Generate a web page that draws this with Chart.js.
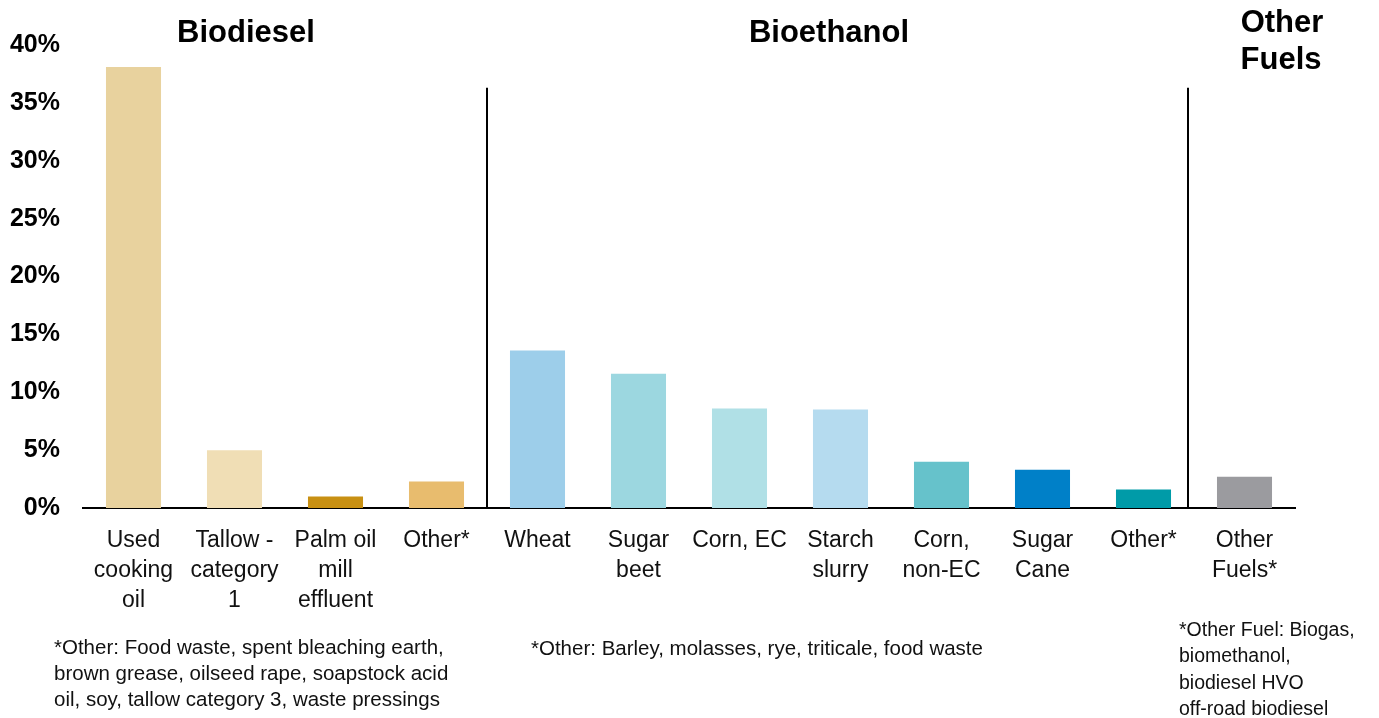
<!DOCTYPE html>
<html lang="en">
<head>
  <meta charset="UTF-8">
  <title>Feedstock shares</title>
  <script src="https://cdn.jsdelivr.net/npm/chart.js"></script>
  <style>
    html, body { margin: 0; padding: 0; background: #fff; overflow: hidden; }
  </style>
</head>
<body>
  <canvas id="feedChart" width="1379" height="718"></canvas>
  <script>
    // categories (multi-line labels)
    const feedstocks = [
      ['Used', 'cooking', 'oil'],
      ['Tallow -', 'category', '1'],
      ['Palm oil', 'mill', 'effluent'],
      ['Other*'],
      ['Wheat'],
      ['Sugar', 'beet'],
      ['Corn, EC'],
      ['Starch', 'slurry'],
      ['Corn,', 'non-EC'],
      ['Sugar', 'Cane'],
      ['Other*'],
      ['Other', 'Fuels*']
    ];
    // share of supply, %
    const shares = [38.1, 5.0, 1.0, 2.3, 13.6, 11.6, 8.6, 8.5, 4.0, 3.3, 1.6, 2.7];
    const barColors = [
      '#E8D29E', '#F0DEB5', '#C89012', '#E8BC6E',
      '#9DCEEA', '#9CD7E0', '#B0E0E6', '#B5DBEF', '#66C2CB', '#0080C8', '#009BA8',
      '#9B9B9F'
    ];
    const yTicks = [0, 5, 10, 15, 20, 25, 30, 35, 40];
    // group separators, in category units
    const separators = [3.5, 10.44];

    const FONT = '"Liberation Sans", Arial, sans-serif';

    const annotations = {
      id: 'annotations',
      afterDraw(chart) {
        const ctx = chart.ctx;
        const x = chart.scales.x, y = chart.scales.y;
        ctx.save();
        ctx.strokeStyle = '#000';
        ctx.lineWidth = 2;
        separators.forEach(s => {
          const px = Math.round(x.getPixelForValue(s));
          ctx.beginPath();
          ctx.moveTo(px, y.getPixelForValue(36.3));
          ctx.lineTo(px, y.getPixelForValue(0));
          ctx.stroke();
        });

        // group titles
        ctx.fillStyle = '#000';
        ctx.textAlign = 'center';
        ctx.textBaseline = 'middle';
        ctx.font = 'bold 31px ' + FONT;
        ctx.fillText('Biodiesel', 246, 33);
        ctx.fillText('Bioethanol', 829, 33);
        ctx.fillText('Other', 1282, 23);
        ctx.fillText('Fuels', 1281, 60);

        // footnotes
        ctx.textAlign = 'left';
        ctx.textBaseline = 'alphabetic';
        ctx.fillStyle = '#111';
        ctx.font = '20.5px ' + FONT;
        ['*Other: Food waste, spent bleaching earth,',
         'brown grease, oilseed rape, soapstock acid',
         'oil, soy, tallow category 3, waste pressings'].forEach((t, i) => ctx.fillText(t, 54, 654 + i * 26));
        ctx.fillText('*Other: Barley, molasses, rye, triticale, food waste', 531, 655);
        ctx.font = '19.5px ' + FONT;
        ['*Other Fuel: Biogas,', 'biomethanol,', 'biodiesel HVO', 'off-road biodiesel']
          .forEach((t, i) => ctx.fillText(t, 1179, 636 + i * 26.3));
        ctx.restore();
      }
    };

    new Chart(document.getElementById('feedChart'), {
      type: 'bar',
      data: {
        labels: feedstocks,
        datasets: [{
          data: shares,
          backgroundColor: barColors,
          borderWidth: 0,
          barPercentage: 0.545,
          categoryPercentage: 1
        }]
      },
      options: {
        responsive: false,
        animation: false,
        devicePixelRatio: 1,
        layout: { padding: { left: 0, top: 45, right: 84, bottom: 0 } },
        plugins: { legend: { display: false }, tooltip: { enabled: false } },
        scales: {
          x: {
            grid: { display: false, drawTicks: false },
            border: { display: true, color: '#000', width: 2 },
            ticks: {
              color: '#111',
              padding: 18,
              maxRotation: 0,
              autoSkip: false,
              font: { family: FONT, size: 23, lineHeight: 1.3 }
            },
            afterFit: s => { s.height = 210; }
          },
          y: {
            min: 0,
            max: 40,
            grid: { display: false, drawTicks: false },
            border: { display: false },
            afterBuildTicks: s => { s.ticks = yTicks.map(v => ({ value: v })); },
            ticks: {
              color: '#000',
              padding: 23,
              font: { family: FONT, size: 25, weight: 'bold' },
              callback: v => v + '%'
            },
            afterFit: s => { s.width = 83; }
          }
        }
      },
      plugins: [annotations]
    });
  </script>
</body>
</html>
